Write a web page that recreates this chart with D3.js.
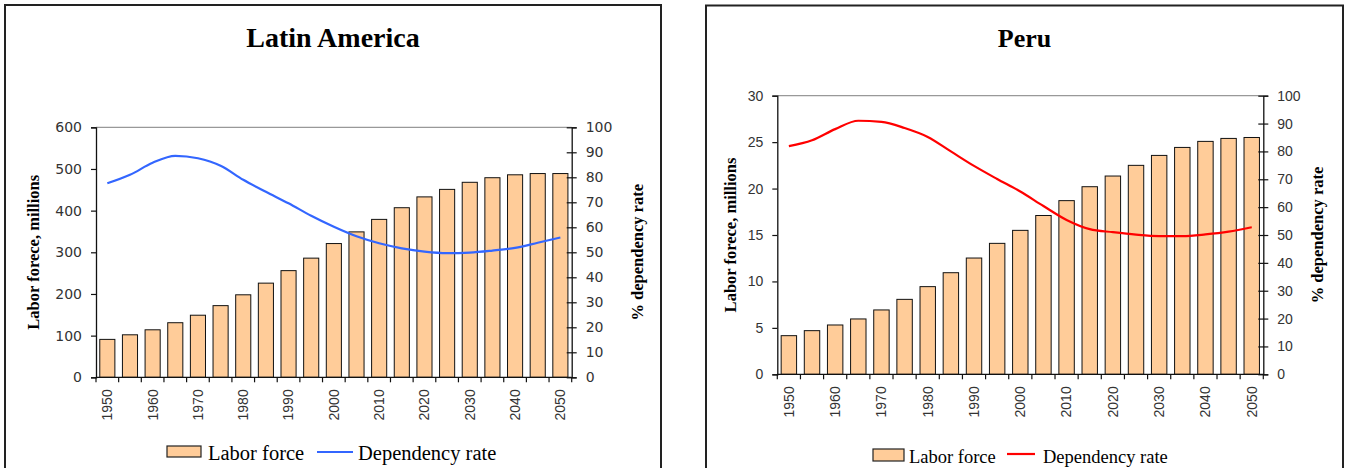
<!DOCTYPE html>
<html>
<head>
<meta charset="utf-8">
<script src="https://cdn.jsdelivr.net/npm/d3@7"></script>
<style>
  body { margin: 0; background: #fff; }
  svg { display: block; }
</style>
</head>
<body>
<svg id="chart" width="1345" height="468"></svg>
<script>
// Five-year steps, 1950-2050
const years = [1950, 1955, 1960, 1965, 1970, 1975, 1980, 1985, 1990, 1995, 2000,
               2005, 2010, 2015, 2020, 2025, 2030, 2035, 2040, 2045, 2050];
const yearLabels = [1950, 1960, 1970, 1980, 1990, 2000, 2010, 2020, 2030, 2040, 2050];

// Latin America: labor force (millions) and dependency rate (%)
const latinLabor = [91, 102, 114, 131, 149, 172, 198, 226, 256, 286, 321,
                    349, 379, 407, 433, 451, 468, 479, 486, 489, 489];
const latinDependency = [77.6, 81.0, 85.8, 88.6, 87.6, 84.6, 79.0, 74.2, 69.6, 64.6, 60.2,
                         56.4, 53.6, 51.6, 50.3, 49.7, 49.9, 50.7, 51.8, 53.8, 55.9];

// Peru: labor force (millions) and dependency rate (%)
const peruLabor = [4.16, 4.7, 5.31, 5.96, 6.93, 8.07, 9.44, 10.94, 12.52, 14.1, 15.5,
                   17.1, 18.7, 20.2, 21.35, 22.5, 23.57, 24.43, 25.08, 25.4, 25.5];
const peruDependency = [81.9, 84.0, 88.0, 91.0, 90.6, 88.4, 85.2, 80.0, 74.8, 70.1, 65.6,
                        60.4, 55.4, 52.1, 51.0, 50.1, 49.6, 49.6, 50.2, 51.2, 52.8];

// Axis ticks
const latinLaborTicks = [0, 100, 200, 300, 400, 500, 600];
const peruLaborTicks = [0, 5, 10, 15, 20, 25, 30];
const dependencyTicks = [0, 10, 20, 30, 40, 50, 60, 70, 80, 90, 100];

const seriesNames = ["Labor force", "Dependency rate"];
const leftAxisTitle = "Labor forece, millions";
const rightAxisTitle = "% dependency rate";

const svg = d3.select("#chart");

const sansFont = "'Liberation Sans', Arial, sans-serif";
const wideSans = "'DejaVu Sans', Verdana, sans-serif";
const serifFont = "'Liberation Serif', 'Times New Roman', serif";

const panels = [
  {
    title: "Latin America", labor: latinLabor, dependency: latinDependency,
    laborTicks: latinLaborTicks, lineColor: "#3366ff",
    frame: { x: 5, y: 5, w: 656 },
    plot: { left: 96, right: 571.7, top: 127.3, bottom: 377.3 },
    titleY: 47, titleSize: 28,
    tickFont: wideSans, tickSize: 14,
    leftTitleX: 39, rightTitleX: 643,
    legend: { swatchX: 167, swatchY: 446, swatchW: 34, swatchH: 11, textY: 459.5,
              text1X: 208, lineX1: 317, lineX2: 353, lineY: 452, text2X: 358, size: 20.5 }
  },
  {
    title: "Peru", labor: peruLabor, dependency: peruDependency,
    laborTicks: peruLaborTicks, lineColor: "#ff0000",
    frame: { x: 706, y: 5.5, w: 637 },
    plot: { left: 777.3, right: 1263.3, top: 95.7, bottom: 374.3 },
    titleY: 47, titleSize: 26,
    tickFont: sansFont, tickSize: 14,
    leftTitleX: 736, rightTitleX: 1322.5,
    legend: { swatchX: 873, swatchY: 449, swatchW: 31, swatchH: 12, textY: 462.5,
              text1X: 909, lineX1: 1007, lineX2: 1035, lineY: 454, text2X: 1043, size: 18.5 }
  }
];

panels.forEach(p => {
  const g = svg.append("g");
  const { left, right, top, bottom } = p.plot;

  // Panel frame (open at the bottom edge)
  g.append("path")
    .attr("d", `M${p.frame.x},470 V${p.frame.y} H${p.frame.x + p.frame.w} V470`)
    .attr("fill", "none").attr("stroke", "#222").attr("stroke-width", 2);

  // Title
  g.append("text")
    .attr("x", p.frame.x + p.frame.w / 2).attr("y", p.titleY)
    .attr("text-anchor", "middle")
    .style("font-family", serifFont).style("font-weight", "bold")
    .style("font-size", p.titleSize + "px").attr("fill", "#000")
    .text(p.title);

  // Scales
  const x = d3.scaleBand().domain(years).range([left, right])
    .paddingInner(1 / 3).paddingOuter(1 / 6);
  const step = x.step();
  const bw = x.bandwidth();
  const yL = d3.scaleLinear()
    .domain([0, p.laborTicks[p.laborTicks.length - 1]]).range([bottom, top]);
  const yR = d3.scaleLinear().domain([0, 100]).range([bottom, top]);

  // Top border of the plot area
  g.append("line")
    .attr("x1", left).attr("x2", right).attr("y1", top).attr("y2", top)
    .attr("stroke", "#999").attr("stroke-width", 1.2);

  // Bars
  g.append("g").selectAll("rect").data(years).join("rect")
    .attr("x", d => x(d))
    .attr("y", (d, i) => yL(p.labor[i]))
    .attr("width", bw)
    .attr("height", (d, i) => bottom - yL(p.labor[i]))
    .attr("fill", "#ffcc99").attr("stroke", "#111").attr("stroke-width", 1);

  // Left axis
  const leftAxis = d3.axisLeft(yL).tickValues(p.laborTicks).tickSize(5).tickPadding(9);
  const la = g.append("g").attr("transform", `translate(${left},0)`).call(leftAxis);
  la.select(".domain").attr("stroke", "#111").attr("stroke-width", 1.3);
  la.selectAll(".tick line").attr("stroke", "#111").attr("stroke-width", 1.2);
  la.selectAll(".tick text").style("font-family", p.tickFont)
    .style("font-size", p.tickSize + "px").attr("fill", "#333");

  // Right axis (ticks crossing the axis line)
  const rightAxis = d3.axisRight(yR).tickValues(dependencyTicks).tickSize(5).tickPadding(9);
  const ra = g.append("g").attr("transform", `translate(${right},0)`).call(rightAxis);
  ra.select(".domain").attr("stroke", "#111").attr("stroke-width", 1.3);
  ra.selectAll(".tick line").attr("x1", -5).attr("x2", 5).attr("stroke", "#111").attr("stroke-width", 1.2);
  ra.selectAll(".tick text").style("font-family", p.tickFont)
    .style("font-size", p.tickSize + "px").attr("fill", "#333");

  // Bottom axis: ticks between categories, labels every ten years
  const boundaries = years.map(d => x(d) - (step - bw) / 2).concat([right]);
  g.append("line")
    .attr("x1", left).attr("x2", right).attr("y1", bottom).attr("y2", bottom)
    .attr("stroke", "#111").attr("stroke-width", 1.3);
  g.append("g").selectAll("line").data(boundaries).join("line")
    .attr("x1", d => d).attr("x2", d => d)
    .attr("y1", bottom).attr("y2", bottom + 5)
    .attr("stroke", "#111").attr("stroke-width", 1.2);
  g.append("g").selectAll("text").data(yearLabels).join("text")
    .attr("transform", d => `translate(${x(d) + bw / 2},${bottom + 12}) rotate(-90)`)
    .attr("text-anchor", "end").attr("dy", "0.35em")
    .style("font-family", sansFont).style("font-size", "14px").attr("fill", "#333")
    .text(d => d);

  // Dependency rate line
  const line = d3.line()
    .x((d, i) => x(years[i]) + bw / 2)
    .y(d => yR(d))
    .curve(d3.curveMonotoneX);
  g.append("path").datum(p.dependency)
    .attr("d", line).attr("fill", "none")
    .attr("stroke", p.lineColor).attr("stroke-width", 2.2);

  // Axis titles
  g.append("text")
    .attr("transform", `translate(${p.leftTitleX},${(top + bottom) / 2}) rotate(-90)`)
    .attr("text-anchor", "middle")
    .style("font-family", serifFont).style("font-weight", "bold").style("font-size", "16.5px")
    .attr("fill", "#000").text(leftAxisTitle);
  g.append("text")
    .attr("transform", `translate(${p.rightTitleX},${(top + bottom) / 2}) rotate(-90)`)
    .attr("text-anchor", "middle")
    .style("font-family", serifFont).style("font-weight", "bold").style("font-size", "16.5px")
    .attr("fill", "#000").text(rightAxisTitle);

  // Legend
  const L = p.legend;
  g.append("rect")
    .attr("x", L.swatchX).attr("y", L.swatchY).attr("width", L.swatchW).attr("height", L.swatchH)
    .attr("fill", "#ffcc99").attr("stroke", "#222").attr("stroke-width", 1.2);
  g.append("text").attr("x", L.text1X).attr("y", L.textY)
    .style("font-family", serifFont).style("font-size", L.size + "px").attr("fill", "#000")
    .text(seriesNames[0]);
  g.append("line")
    .attr("x1", L.lineX1).attr("x2", L.lineX2).attr("y1", L.lineY).attr("y2", L.lineY)
    .attr("stroke", p.lineColor).attr("stroke-width", 2.2);
  g.append("text").attr("x", L.text2X).attr("y", L.textY)
    .style("font-family", serifFont).style("font-size", L.size + "px").attr("fill", "#000")
    .text(seriesNames[1]);
});
</script>
</body>
</html>
